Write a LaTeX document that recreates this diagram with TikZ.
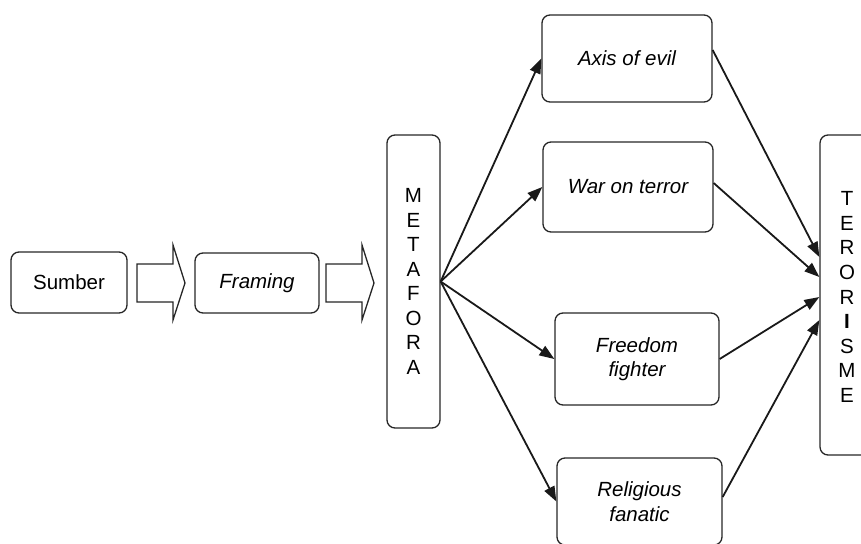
\documentclass[tikz,border=0pt]{standalone}
\usepackage{fontspec}
\setmainfont{Liberation Sans}
\usetikzlibrary{arrows.meta}
\begin{document}
\begin{tikzpicture}[x=1pt,y=-1pt,
  box/.style={draw=black!85,line width=1.3pt,rounded corners=8pt,inner sep=0pt,align=center,
     font=\fontsize{20.5}{24.5}\selectfont},
  conn/.style={line width=1.8pt,draw=black!90,-{Triangle[length=15pt,width=11pt]}},
  blockarrow/.style={draw=black!85,line width=1.3pt,fill=white}]
\clip (0,0) rectangle (861,543);
\node[box,minimum width=116pt,minimum height=61pt] (S) at (69,282.5) {Sumber};
\node[box,minimum width=124pt,minimum height=60pt] (F) at (257,283) {\itshape Framing};
\node[box,minimum width=53pt,minimum height=293pt] (M) at (413.5,281.5) {M\\E\\T\\A\\F\\O\\R\\A};
\node[box,minimum width=170pt,minimum height=87pt] (A) at (627,58.5) {\itshape Axis of evil};
\node[box,minimum width=170pt,minimum height=90pt] (W) at (628,187) {\itshape War on terror};
\node[box,minimum width=164pt,minimum height=92pt] (FF) at (637,359) {\itshape Freedom\\\itshape fighter};
\node[box,minimum width=165pt,minimum height=87pt] (R) at (639.5,501.5) {\itshape Religious\\\itshape fanatic};
\node[box,minimum width=60pt,minimum height=320pt] (T) at (850,295) {};
\node[font=\fontsize{20.5}{24.6}\selectfont,align=center] (TT) at (847,297) {T\\E\\R\\O\\R\\\textbf{I}\\S\\M\\E};
% block arrows
\draw[blockarrow] (137,264) -- (173,264) -- (173,245) -- (185,283) -- (173,320) -- (173,302) -- (137,302) -- cycle;
\draw[blockarrow] (326,264) -- (362,264) -- (362,245) -- (374,283) -- (362,320) -- (362,302) -- (326,302) -- cycle;
% fan out
\draw[conn] (M.east) -- (A.west);
\draw[conn] (M.east) -- (W.west);
\draw[conn] (M.east) -- (FF.west);
\draw[conn] (M.east) -- (R.west);
% fan in
\draw[conn] ([yshift=8.5pt]A.east) -- ([yshift=38pt]T.west);
\draw[conn] ([yshift=4pt]W.east) -- ([yshift=18pt]T.west);
\draw[conn] (FF.east) -- ([yshift=-2pt]T.west);
\draw[conn] ([yshift=4.5pt]R.east) -- ([yshift=-25pt]T.west);
\end{tikzpicture}
\end{document}
